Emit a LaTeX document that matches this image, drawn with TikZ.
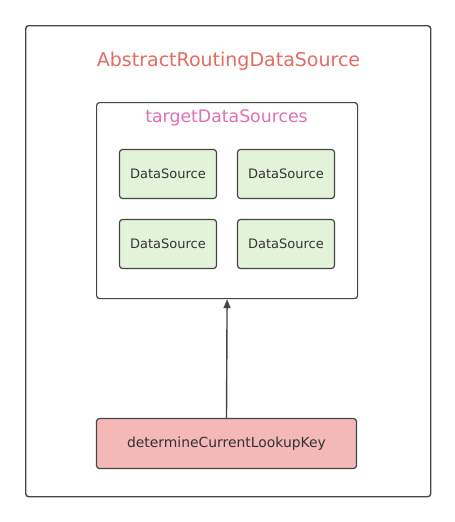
\documentclass[tikz,border=0pt]{standalone}
\usepackage{fontspec}
\setmainfont{DejaVu Sans}
\usetikzlibrary{arrows.meta}
\definecolor{titlered}{RGB}{228,108,98}
\definecolor{titlepink}{RGB}{222,112,182}
\definecolor{dsfill}{RGB}{226,243,218}
\definecolor{keyfill}{RGB}{244,184,184}
\definecolor{edge}{RGB}{70,70,70}
\begin{document}
\begin{tikzpicture}[x=1pt,y=-1pt,
  frame/.style={draw=edge,line width=1.4pt,rounded corners=3pt},
  dsbox/.style={draw=edge,line width=1.2pt,rounded corners=3pt,fill=dsfill,minimum width=97pt,minimum height=49pt,inner sep=0pt,font=\fontsize{13}{15}\selectfont,text=black!80},
  keybox/.style={draw=edge,line width=1.2pt,rounded corners=3pt,fill=keyfill,minimum width=260pt,minimum height=50pt,inner sep=0pt,font=\fontsize{13.9}{15}\selectfont,text=black!80}]
\useasboundingbox (0,0) rectangle (455,522);
\fill[white] (0,0) rectangle (455,522);
\node[frame,minimum width=405pt,minimum height=471pt,anchor=north west,inner sep=0pt] (outer) at (25,25) {};
\node[text=titlered,font=\fontsize{19}{21}\selectfont] (title) at (228.5,61) {AbstractRoutingDataSource};
\node[frame,line width=1.2pt,minimum width=261pt,minimum height=196pt,anchor=north west,inner sep=0pt] (inner) at (96,102) {};
\node[text=titlepink,font=\fontsize{17.3}{19}\selectfont] (tds) at (226.5,118) {targetDataSources};
\node[dsbox] (ds1) at (168,174) {DataSource};
\node[dsbox] (ds2) at (286,174) {DataSource};
\node[dsbox] (ds3) at (168,244) {DataSource};
\node[dsbox] (ds4) at (286,244) {DataSource};
\node[keybox] (key) at (226.5,443.5) {determineCurrentLookupKey};
\draw[edge,line width=1.4pt,-{Triangle[length=9pt,width=7pt]}] (key.north) -- (inner.south);
\end{tikzpicture}
\end{document}
